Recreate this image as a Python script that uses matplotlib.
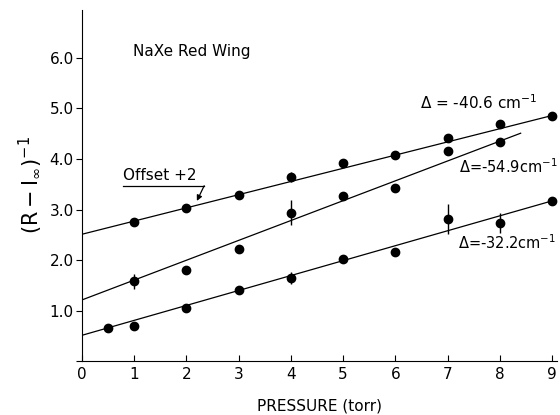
import matplotlib
matplotlib.use('Agg')
import matplotlib.pyplot as plt

# top series (Delta = -40.6 cm-1, offset +2)
p_top = [1, 2, 3, 4, 5, 6, 7, 8, 9]
r_top = [2.75, 3.02, 3.29, 3.65, 3.93, 4.08, 4.42, 4.69, 4.86]
e_top = [0, 0, 0, 0.1, 0, 0, 0, 0, 0]
fit_top_x = [0, 9]
fit_top_y = [2.51, 4.86]

# middle series (Delta = -54.9 cm-1)
p_mid = [1, 2, 3, 4, 5, 6, 7, 8]
r_mid = [1.58, 1.80, 2.22, 2.94, 3.27, 3.42, 4.16, 4.34]
e_mid = [0.15, 0, 0, 0.25, 0, 0, 0, 0]
fit_mid_x = [0, 8.4]
fit_mid_y = [1.21, 4.51]

# bottom series (Delta = -32.2 cm-1)
p_bot = [0.5, 1, 2, 3, 4, 5, 6, 7, 8, 9]
r_bot = [0.66, 0.69, 1.06, 1.40, 1.64, 2.03, 2.15, 2.81, 2.73, 3.17]
e_bot = [0, 0, 0, 0, 0.12, 0, 0, 0.3, 0.2, 0]
fit_bot_x = [0, 9]
fit_bot_y = [0.51, 3.17]

x_ticks = list(range(10))
y_ticks = [0, 1, 2, 3, 4, 5, 6]
y_labels = ['', '1.0', '2.0', '3.0', '4.0', '5.0', '6.0']

fig = plt.figure(figsize=(5.6, 4.15), dpi=100)
ax = fig.add_axes([0.1464, 0.130, 0.995 - 0.1464, 0.976 - 0.130])

for px, ry, ey, fx, fy in [(p_top, r_top, e_top, fit_top_x, fit_top_y),
                           (p_mid, r_mid, e_mid, fit_mid_x, fit_mid_y),
                           (p_bot, r_bot, e_bot, fit_bot_x, fit_bot_y)]:
    ax.plot(fx, fy, color='black', lw=0.9)
    ax.errorbar(px, ry, yerr=ey, fmt='o', color='black', ms=6,
                elinewidth=1.0, capsize=0)

ax.set_xlim(0, 9.1)
ax.set_ylim(0, 6.95)
for s in ['top', 'right']:
    ax.spines[s].set_visible(False)
ax.spines['left'].set_linewidth(0.8)
ax.spines['bottom'].set_linewidth(0.8)
ax.set_xticks(x_ticks)
ax.set_yticks(y_ticks)
ax.set_yticklabels(y_labels)
ax.tick_params(axis='x', direction='in', length=4, labelsize=11, pad=4)
ax.tick_params(axis='y', direction='out', length=4, labelsize=11, pad=2)

ax.set_xlabel('PRESSURE (torr)', fontsize=11, labelpad=12)
ax.set_ylabel(r'$\left(\mathrm{R}-\mathrm{I}_{\infty}\right)^{-1}$',
              fontsize=15, labelpad=4)

ax.text(0.98, 6.12, 'NaXe Red Wing', fontsize=11, va='center')
ax.text(6.47, 5.11, r'$\Delta$ = -40.6 cm$^{-1}$', fontsize=11, va='center')
ax.text(7.22, 3.84, r'$\Delta$=-54.9cm$^{-1}$', fontsize=10.5, va='center')
ax.text(7.20, 2.34, r'$\Delta$=-32.2cm$^{-1}$', fontsize=10.5, va='center')

# "Offset +2" label with underline and arrow
ax.text(0.785, 3.52, 'Offset +2', fontsize=11, va='bottom')
ax.plot([0.785, 2.34], [3.47, 3.47], color='black', lw=0.9)
ax.annotate('', xy=(2.20, 3.17), xytext=(2.34, 3.47),
            arrowprops=dict(arrowstyle='-|>', color='black', lw=0.9,
                            mutation_scale=8, shrinkA=0, shrinkB=0))

fig.savefig('out.png', dpi=100)
